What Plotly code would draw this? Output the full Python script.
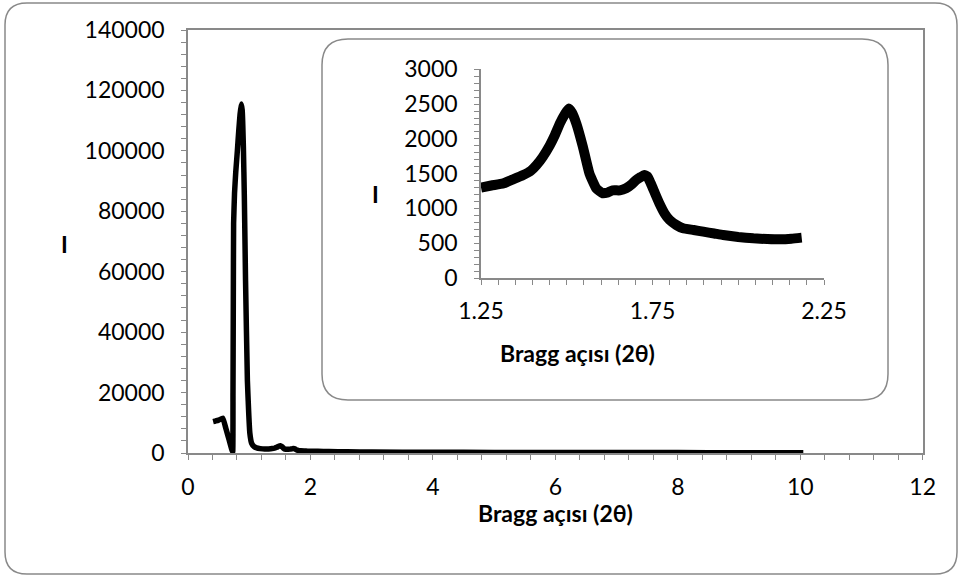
import plotly.graph_objects as go

W, H = 959, 578

# Main pattern: Bragg angle (2θ) vs intensity I
main_x = [0.41, 0.45, 0.50, 0.57, 0.62, 0.67, 0.71, 0.73, 0.735, 0.74, 0.745, 0.76, 0.78,
          0.806, 0.83, 0.85, 0.87, 0.885, 0.905, 0.92, 0.94, 0.97, 0.99, 1.01, 1.04,
          1.08, 1.12, 1.18, 1.25, 1.315, 1.373, 1.412, 1.451, 1.48, 1.506, 1.528, 1.547,
          1.566, 1.586, 1.605, 1.634, 1.673, 1.702, 1.726, 1.745, 1.77, 1.80, 1.839,
          1.898, 1.956, 2.044, 2.122, 2.3, 2.6, 3.0, 4.0, 5.0, 6.0, 7.0, 8.0, 9.0, 10.05]
main_y = [10400, 10600, 10900, 11500, 8000, 4500, 1500, 300, 20000, 50000, 76000, 86000, 93000,
          100000, 107000, 112000, 115500, 113500, 101000, 85000, 57000, 24000, 14000, 6600, 3200,
          2100, 1700, 1450, 1300, 1360, 1480, 1624, 1911, 2223, 2438, 2220, 1887,
          1504, 1289, 1217, 1240, 1290, 1408, 1480, 1360, 1073, 833, 714,
          666, 618, 570, 556, 480, 400, 330, 250, 200, 170, 150, 130, 120, 110]

# Inset: zoom on 1.25–2.2
inset_x = [1.25, 1.28, 1.315, 1.345, 1.373, 1.395, 1.412, 1.43, 1.451, 1.465, 1.48, 1.495,
           1.506, 1.515, 1.528, 1.547, 1.566, 1.586, 1.605, 1.62, 1.634, 1.655, 1.673,
           1.69, 1.702, 1.715, 1.726, 1.735, 1.745, 1.757, 1.77, 1.785, 1.80, 1.82, 1.839,
           1.87, 1.898, 1.93, 1.956, 2.0, 2.044, 2.085, 2.122, 2.155, 2.185]
inset_y = [1300, 1330, 1360, 1420, 1480, 1540, 1624, 1740, 1911, 2050, 2223, 2360,
           2438, 2380, 2220, 1887, 1504, 1289, 1217, 1230, 1260, 1260, 1290,
           1350, 1408, 1450, 1480, 1460, 1360, 1220, 1073, 930, 833, 760, 714,
           690, 666, 640, 618, 590, 570, 560, 556, 565, 580]

main_xticks = [0, 2, 4, 6, 8, 10, 12]
main_yticks = [0, 20000, 40000, 60000, 80000, 100000, 120000, 140000]
inset_xticks = [1.25, 1.75, 2.25]
inset_xlabels = ["1.25", "1.75", "2.25"]
inset_yticks = [0, 500, 1000, 1500, 2000, 2500, 3000]

x_title = "Bragg açısı (2θ)"
y_title = "I"

GRAY = "#898989"
FONT = "Lato"
FS = 23

def px(x):
    return x / W

def py(y):
    return 1 - y / H

fig = go.Figure()
fig.add_trace(go.Scatter(x=main_x, y=main_y, mode="lines",
                         line=dict(color="black", width=5.5, shape="spline", smoothing=0.3),
                         xaxis="x", yaxis="y", showlegend=False))
fig.add_trace(go.Scatter(x=inset_x, y=inset_y, mode="lines",
                         line=dict(color="black", width=10, shape="spline", smoothing=0.4),
                         xaxis="x2", yaxis="y2", showlegend=False))

def rrect(x0, y0, x1, y1, r):
    def P(x, y):
        return f"{px(x)},{py(y)}"
    return (f"M {P(x0 + r, y0)} L {P(x1 - r, y0)} Q {P(x1, y0)} {P(x1, y0 + r)} "
            f"L {P(x1, y1 - r)} Q {P(x1, y1)} {P(x1 - r, y1)} "
            f"L {P(x0 + r, y1)} Q {P(x0, y1)} {P(x0, y1 - r)} "
            f"L {P(x0, y0 + r)} Q {P(x0, y0)} {P(x0 + r, y0)} Z")

shapes = [
    dict(type="path", xref="paper", yref="paper", path=rrect(5, 3, 957, 574, 22),
         line=dict(color=GRAY, width=1.5), fillcolor="rgba(0,0,0,0)", layer="below"),
    dict(type="path", xref="paper", yref="paper", path=rrect(322, 39, 888, 400, 26),
         line=dict(color=GRAY, width=1.5), fillcolor="white", layer="below"),
]

common = dict(showgrid=False, zeroline=False, showline=True, linecolor=GRAY, linewidth=1.5,
              ticks="outside", ticklen=5, tickcolor=GRAY, tickwidth=1.2, automargin=False,
              tickfont=dict(family=FONT, size=FS, color="black"))
minor = dict(ticks="outside", ticklen=5, tickcolor=GRAY, tickwidth=1.2)

fig.update_layout(
    width=W, height=H, margin=dict(l=0, r=0, t=0, b=0, autoexpand=False),
    paper_bgcolor="white", plot_bgcolor="white",
    xaxis=dict(domain=[px(188), px(922.7)], range=[0, 12], tickvals=main_xticks,
               ticktext=[str(v) for v in main_xticks],
               anchor="y", mirror=True, ticklabelstandoff=8,
               minor=dict(dtick=0.4, tick0=0, **minor), **common),
    yaxis=dict(domain=[py(453), py(30)], range=[0, 140000], tickvals=main_yticks,
               ticktext=[str(v) for v in main_yticks],
               anchor="x", mirror=True, ticklabelstandoff=12,
               minor=dict(dtick=4000, tick0=0, **minor), **common),
    xaxis2=dict(domain=[px(481), px(824)], range=[1.25, 2.25], tickvals=inset_xticks,
                ticktext=inset_xlabels, anchor="y2", ticklabelstandoff=7,
                minor=dict(dtick=0.05, tick0=1.25, **minor), **common),
    yaxis2=dict(domain=[py(278), py(69.3)], range=[0, 3000], tickvals=inset_yticks,
                ticktext=[str(v) for v in inset_yticks],
                anchor="x2", ticklabelstandoff=12,
                minor=dict(dtick=100, tick0=0, **minor), **common),
    shapes=shapes,
    annotations=[
        dict(text=f"<b>{x_title}</b>", x=px(555), y=py(529), xref="paper", yref="paper",
             showarrow=False, font=dict(family=FONT, size=FS, color="black")),
        dict(text=f"<b>{y_title}</b>", x=px(58.5), y=py(244), xref="paper", yref="paper",
             showarrow=False, font=dict(family=FONT, size=FS, color="black")),
        dict(text=f"<b>{x_title}</b>", x=px(657), y=py(353), xref="paper", yref="paper",
             showarrow=False, font=dict(family=FONT, size=FS, color="black")),
        dict(text=f"<b>{y_title}</b>", x=px(375), y=py(178), xref="paper", yref="paper",
             showarrow=False, font=dict(family=FONT, size=FS, color="black")),
    ],
)

fig.write_html("out.html")
